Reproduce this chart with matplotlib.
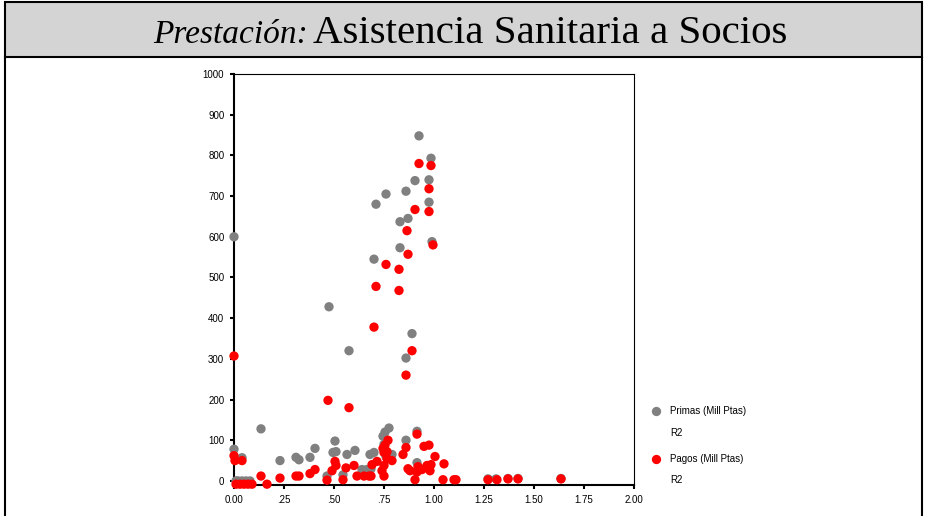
import matplotlib
matplotlib.use("Agg")
import matplotlib.pyplot as plt
from matplotlib.patches import Rectangle
from matplotlib.lines import Line2D

# Datos
# Primas (Mill Ptas) - puntos grises
primas_x = [0.00, 0.925, 0.985, 0.975, 0.905, 0.86, 0.76, 0.71, 0.975, 0.87,
            0.83, 0.83, 0.99, 0.70, 0.475, 0.89, 0.575, 0.86, 0.135, 0.00,
            0.04, 0.23, 0.31, 0.325, 0.38, 0.405, 0.505, 0.495, 0.51, 0.565,
            0.605, 0.68, 0.70, 0.745, 0.755, 0.775, 0.79, 0.86, 0.915, 0.465,
            0.545, 0.64, 0.665, 0.685, 0.915, 0.01, 0.02, 0.04, 0.06, 0.08,
            1.27, 1.31, 1.37, 1.42, 1.635, 0.75, 0.76]
primas_y = [600, 848, 793, 740, 738, 712, 705, 680, 685, 645,
            637, 573, 588, 545, 428, 362, 320, 302, 128, 78,
            57, 50, 58, 52, 58, 80, 98, 70, 72, 65,
            75, 65, 70, 110, 120, 130, 65, 100, 122, 12,
            15, 28, 28, 30, 45, 0, 0, 0, 0, 0,
            5, 5, 6, 6, 6, 90, 60]

# Pagos (Mill Ptas) - puntos rojos
pagos_x = [0.925, 0.985, 0.975, 0.905, 0.975, 0.865, 0.995, 0.87, 0.76, 0.825,
           0.71, 0.825, 0.70, 0.89, 0.86, 0.00, 0.47, 0.575,
           0.00, 0.005, 0.04, 0.01, 0.03, 0.05, 0.07, 0.09, 0.135, 0.165,
           0.23, 0.31, 0.325, 0.38, 0.405, 0.465, 0.49, 0.51, 0.505, 0.545,
           0.56, 0.60, 0.615, 0.65, 0.675, 0.685, 0.69, 0.715, 0.745, 0.75,
           0.75, 0.765, 0.77, 0.765, 0.79, 0.845, 0.86, 0.88, 0.905, 0.915,
           0.92, 0.915, 0.95, 0.975, 0.98, 0.965, 1.005, 1.045, 1.05, 1.10,
           1.11, 1.27, 1.315, 1.37, 1.42, 1.635, 0.87, 0.94, 0.985, 0.755,
           0.75, 0.74]
pagos_y = [780, 775, 718, 667, 662, 615, 580, 557, 532, 520,
           478, 468, 378, 320, 260, 307, 198, 180,
           62, 50, 50, -8, -8, -8, -8, -8, 12, -8,
           7, 12, 12, 18, 28, 2, 25, 38, 48, 3,
           32, 38, 12, 12, 12, 12, 40, 48, 80, 38,
           12, 55, 100, 72, 50, 65, 82, 25, 3, 115,
           35, 22, 85, 88, 25, 38, 60, 3, 42, 3,
           3, 3, 3, 5, 5, 5, 30, 28, 40, 88,
           70, 25]

x_ticks = [0, 0.25, 0.5, 0.75, 1.0, 1.25, 1.5, 1.75, 2.0]
x_labels = ["0.00", ".25", ".50", ".75", "1.00", "1.25", "1.50", "1.75", "2.00"]
y_ticks = list(range(0, 1001, 100))

W, H = 929, 516
fig = plt.figure(figsize=(W / 100, H / 100), dpi=100)

# Marco y banda del titulo
fig.add_artist(Rectangle((5 / W, 1 - 57 / H), 917 / W, 55 / H, transform=fig.transFigure,
                         facecolor="#d4d4d4", edgecolor="black", linewidth=1.5))
fig.add_artist(Line2D([5 / W, 5 / W], [0, 1 - 57 / H], transform=fig.transFigure,
                      color="black", linewidth=1.5))
fig.add_artist(Line2D([922 / W, 922 / W], [0, 1 - 57 / H], transform=fig.transFigure,
                      color="black", linewidth=1.5))

serif = ["Liberation Serif", "DejaVu Serif"]
fig.text(153 / W, 1 - 43 / H, "Prestación:", family=serif, style="italic", fontsize=24,
         ha="left", va="baseline")
fig.text(313 / W, 1 - 43 / H, "Asistencia Sanitaria a Socios", family=serif, fontsize=29.5,
         ha="left", va="baseline")

# Ejes
ax = fig.add_axes([234 / W, 1 - 485 / H, 400 / W, 411 / H])
ax.scatter(primas_x, primas_y, s=45, color="#808080", edgecolors="none", zorder=3, clip_on=False)
ax.scatter(pagos_x, pagos_y, s=45, color="#ff0000", edgecolors="none", zorder=4, clip_on=False)

ax.set_xlim(0, 2)
ax.set_ylim(-10, 1000)
ax.set_xticks(x_ticks)
ax.set_xticklabels(x_labels)
ax.set_yticks(y_ticks)
for lbl in ax.get_xticklabels() + ax.get_yticklabels():
    lbl.set_family(["Liberation Sans", "DejaVu Sans"])
    lbl.set_fontsize(7)
ax.tick_params(direction="out", length=3, width=1.5, pad=4)
ax.spines["left"].set_linewidth(1.5)
ax.spines["bottom"].set_linewidth(1.5)
ax.spines["top"].set_linewidth(0.8)
ax.spines["right"].set_linewidth(0.8)

# Leyenda manual
sans = ["Liberation Sans", "DejaVu Sans"]
leg = [("Primas (Mill Ptas)", "#808080", 411, 433), ("Pagos (Mill Ptas)", "#ff0000", 459, 480)]
for texto, col, y1, y2 in leg:
    fig.add_artist(Line2D([656 / W], [1 - y1 / H], transform=fig.transFigure, marker="o",
                          markersize=6.7, color=col, markeredgewidth=0, linestyle="none"))
    fig.text(670 / W, 1 - y1 / H, texto, family=sans, fontsize=7, va="center")
    fig.text(670 / W, 1 - y2 / H, "R2", family=sans, fontsize=7, va="center")

fig.savefig("out.png", dpi=100)
